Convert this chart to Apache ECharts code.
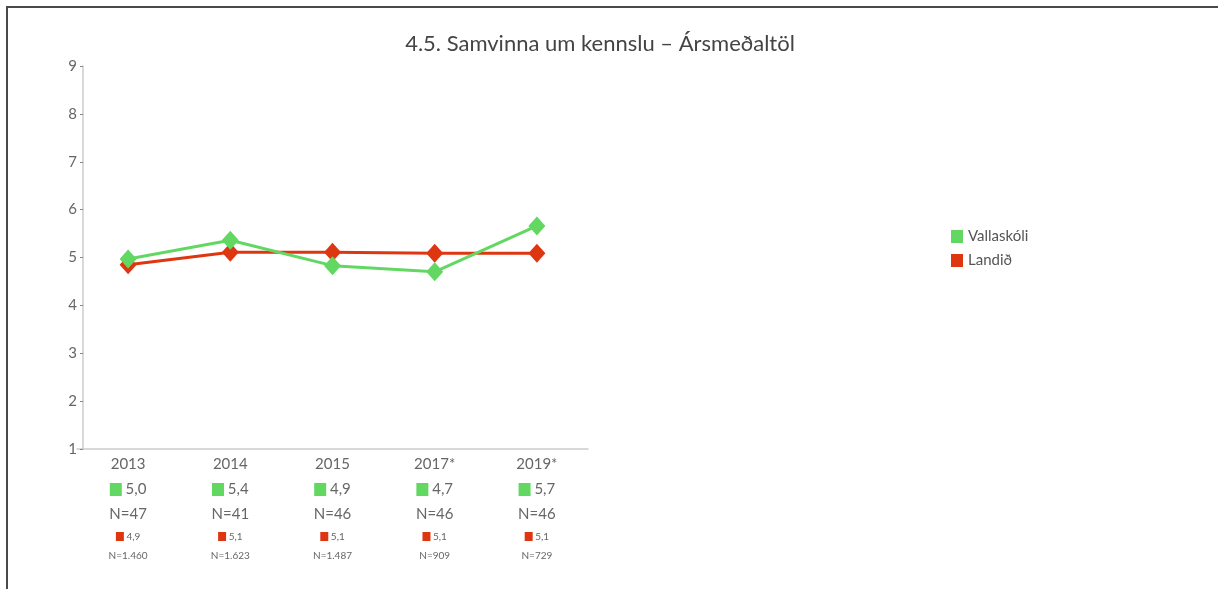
<!DOCTYPE html>
<html>
<head>
<meta charset="utf-8">
<script src="https://cdn.jsdelivr.net/npm/echarts@6/dist/echarts.min.js"></script>
<style>
html, body { margin: 0; padding: 0; background: #fff; }
#chart { width: 1218px; height: 589px; }
#frame { position: absolute; left: 6px; top: 6px; right: 0; bottom: 0; border-top: 2px solid #4a4a4a; border-left: 2px solid #4a4a4a; pointer-events: none; }
</style>
</head>
<body>
<div id="chart"></div>
<div id="frame"></div>
<script>
var years = ['2013', '2014', '2015', '2017*', '2019*'];
// Vallaskóli
var vallaValues = [4.97, 5.36, 4.83, 4.70, 5.66];
var vallaLabels = ['5,0', '5,4', '4,9', '4,7', '5,7'];
var vallaN = ['47', '41', '46', '46', '46'];
// Landið
var landValues = [4.85, 5.11, 5.11, 5.09, 5.09];
var landLabels = ['4,9', '5,1', '5,1', '5,1', '5,1'];
var landN = ['1.460', '1.623', '1.487', '909', '729'];

var green = '#62d862';
var red = '#df3612';
var font = 'Lato';

var chart = echarts.init(document.getElementById('chart'));

var option = {
    textStyle: { fontFamily: font },
    title: {
        text: '4.5. Samvinna um kennslu – Ársmeðaltöl',
        left: 595,
        textAlign: 'center',
        top: 28,
        textStyle: { fontFamily: font, fontSize: 22, fontWeight: 'normal', color: '#444' }
    },
    legend: {
        orient: 'vertical',
        left: 946,
        top: 224,
        itemWidth: 12,
        itemHeight: 13,
        itemGap: 9,
        icon: 'rect',
        textStyle: { fontFamily: font, fontSize: 15, color: '#555' },
        data: ['Vallaskóli', 'Landið']
    },
    grid: {
        left: 77,
        top: 66,
        width: 511,
        bottom: 140
    },
    xAxis: {
        type: 'category',
        data: years,
        boundaryGap: true,
        axisLine: { lineStyle: { color: '#ccc', width: 1.5 } },
        axisTick: { show: false },
        axisLabel: {
            margin: 2,
            interval: 0,
            formatter: function (v) {
                var i = years.indexOf(v);
                return '{y|' + v + '}\n' +
                    '{g|}{t| ' + vallaLabels[i] + '}\n' +
                    '{n|N=' + vallaN[i] + '}\n' +
                    '{r|}{s| ' + landLabels[i] + '}\n' +
                    '{m|N=' + landN[i] + '}';
            },
            rich: {
                y: { fontFamily: font, fontSize: 15, color: '#666', lineHeight: 26 },
                g: { backgroundColor: green, width: 12, height: 13, lineHeight: 25 },
                t: { fontFamily: font, fontSize: 15, color: '#666', lineHeight: 25 },
                n: { fontFamily: font, fontSize: 15, color: '#666', lineHeight: 24 },
                r: { backgroundColor: red, width: 8, height: 9, lineHeight: 21 },
                s: { fontFamily: font, fontSize: 10, color: '#666', lineHeight: 21 },
                m: { fontFamily: font, fontSize: 10, color: '#666', lineHeight: 18 }
            }
        }
    },
    yAxis: {
        type: 'value',
        min: 1,
        max: 9,
        interval: 1,
        offset: -6,
        splitLine: { show: false },
        axisLine: { show: true, lineStyle: { color: '#ccc', width: 1.5 } },
        axisTick: { show: true, length: 3, lineStyle: { color: '#888' } },
        axisLabel: { fontFamily: font, fontSize: 15, color: '#666', margin: 6 }
    },
    series: [
        {
            name: 'Landið',
            type: 'line',
            data: landValues,
            symbol: 'diamond',
            symbolSize: [17, 19],
            itemStyle: { color: red },
            lineStyle: { color: red, width: 3 },
            z: 2
        },
        {
            name: 'Vallaskóli',
            type: 'line',
            data: vallaValues,
            symbol: 'diamond',
            symbolSize: [17, 19],
            itemStyle: { color: green },
            lineStyle: { color: green, width: 3 },
            z: 3
        }
    ],
    animation: false
};

chart.setOption(option);
</script>
</body>
</html>
